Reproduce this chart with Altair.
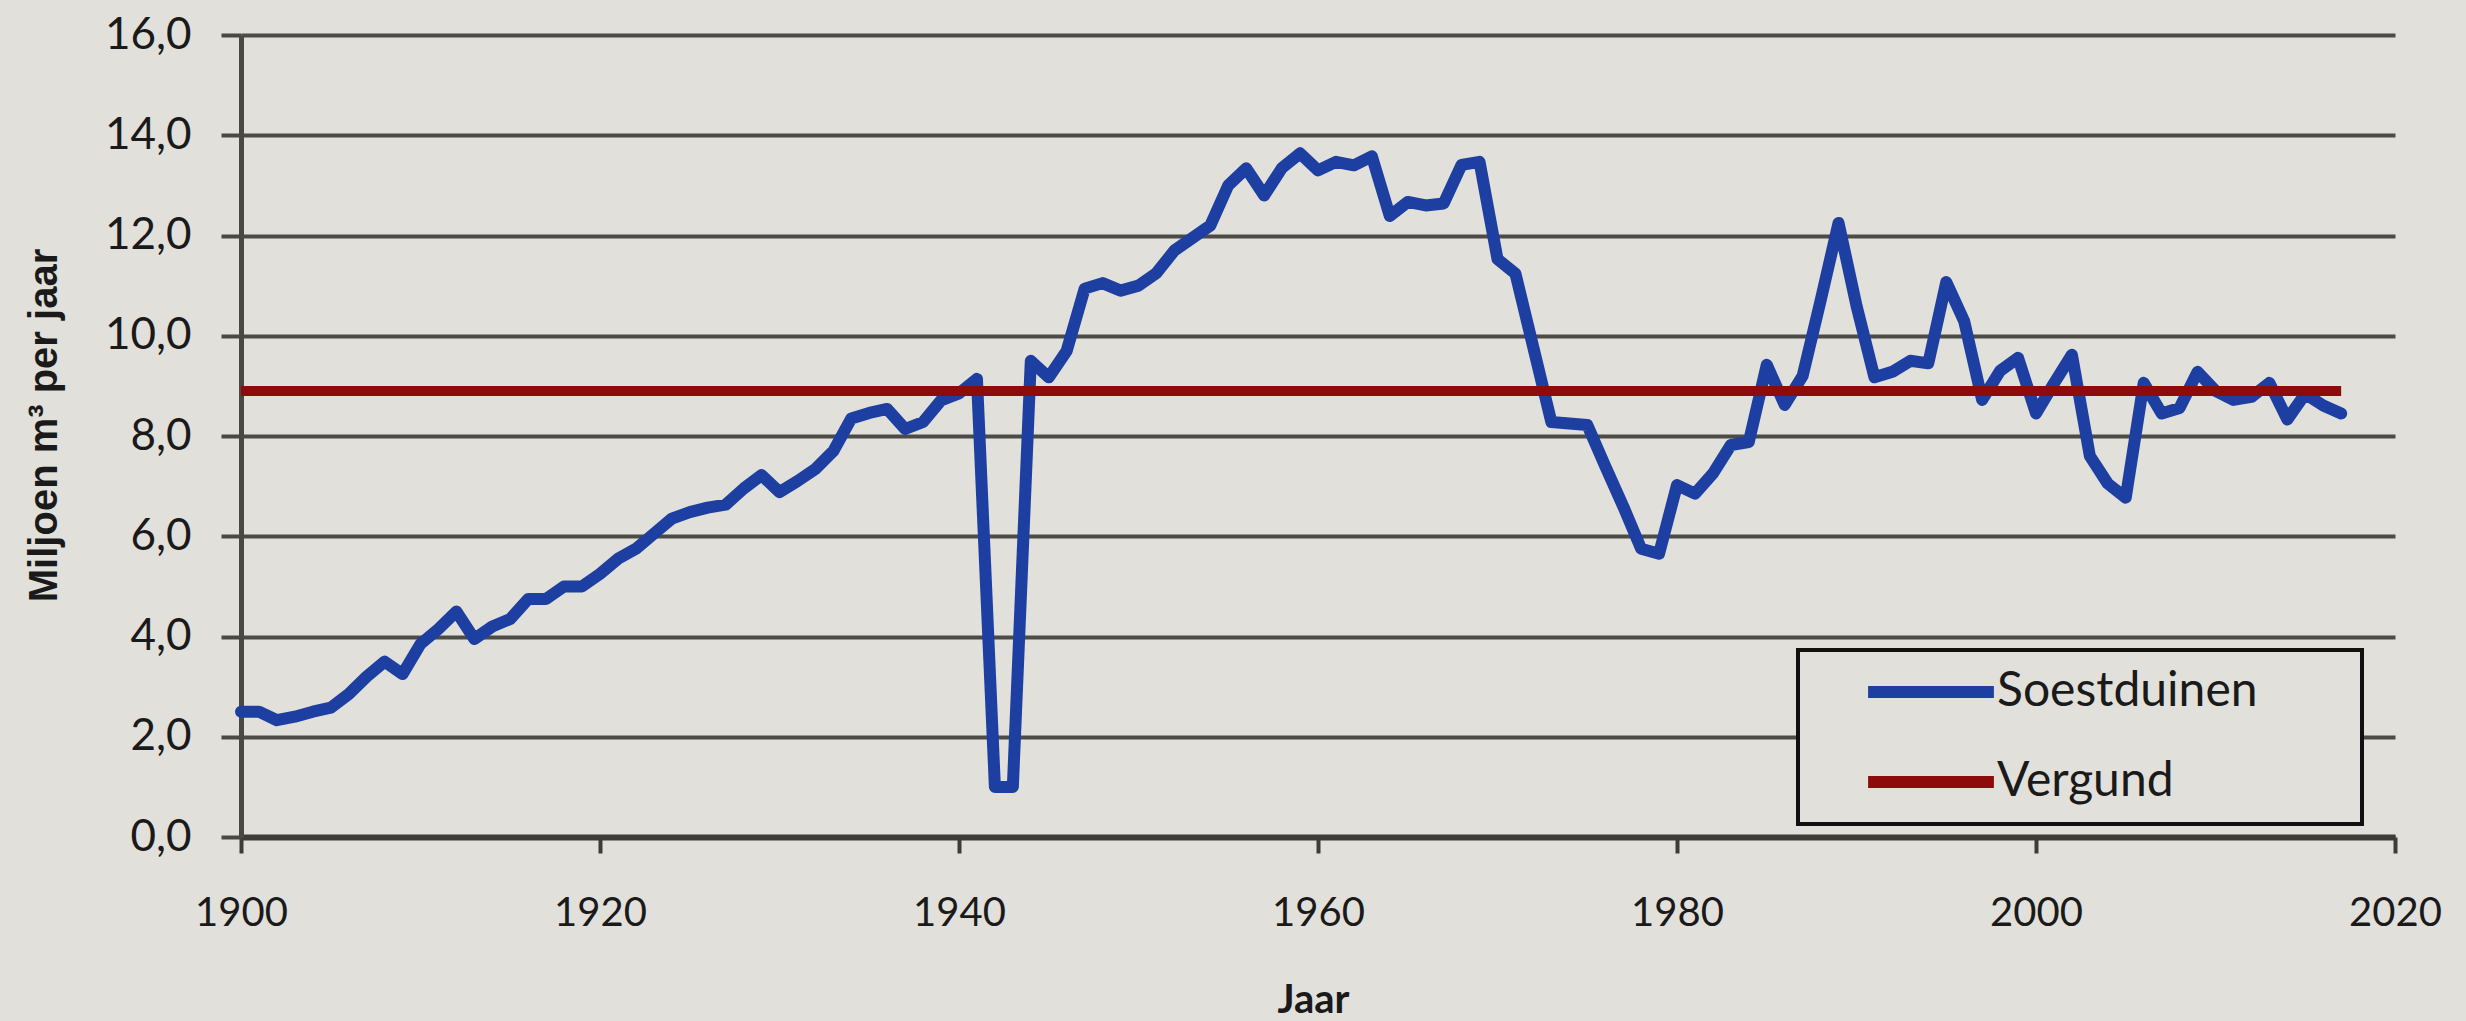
import altair as alt
import pandas as pd

# ---------------- data ----------------
years = list(range(1900, 2018))
soestduinen = [
    2.5, 2.5, 2.33, 2.4, 2.5, 2.58, 2.85, 3.2, 3.5, 3.25,          # 1900-1909
    3.85, 4.15, 4.5, 3.95, 4.2, 4.35, 4.75, 4.75, 5.0, 5.0,        # 1910-1919
    5.25, 5.55, 5.75, 6.05, 6.35, 6.48, 6.57, 6.63, 6.95, 7.22,    # 1920-1929
    6.88, 7.1, 7.34, 7.7, 8.35, 8.46, 8.54, 8.14, 8.28, 8.71,      # 1930-1939
    8.85, 9.14, 1.0, 1.0, 9.5, 9.17, 9.7, 10.94, 11.05, 10.9,      # 1940-1949
    11.0, 11.25, 11.7, 11.95, 12.2, 13.0, 13.34, 12.8, 13.35, 13.64,  # 1950-1959
    13.3, 13.47, 13.4, 13.58, 12.39, 12.67, 12.6, 12.64, 13.41, 13.47,  # 1960-1969
    11.53, 11.24, 9.76, 8.28, 8.25, 8.22, 7.4, 6.6, 5.75, 5.65,    # 1970-1979
    7.02, 6.85, 7.25, 7.82, 7.88, 9.42, 8.62, 9.2, 10.7, 12.25,    # 1980-1989
    10.6, 9.17, 9.28, 9.5, 9.45, 11.07, 10.29, 8.72, 9.3, 9.56,    # 1990-1999
    8.45, 9.05, 9.62, 7.6, 7.05, 6.77, 9.06, 8.45, 8.56, 9.28,     # 2000-2009
    8.9, 8.72, 8.78, 9.06, 8.33, 8.84, 8.61, 8.45,                 # 2010-2017
]
vergund_years = [1900, 2017]
vergund_values = [8.9, 8.9]

series_names = ["Soestduinen", "Vergund"]
series_colors = ["#1d3fa2", "#8c0c0c"]
x_ticks = [1900, 1920, 1940, 1960, 1980, 2000, 2020]
y_ticks = [0, 2, 4, 6, 8, 10, 12, 14, 16]

df_s = pd.DataFrame({"Jaar": years, "Waarde": soestduinen, "Reeks": series_names[0]})
df_v = pd.DataFrame({"Jaar": vergund_years, "Waarde": vergund_values, "Reeks": series_names[1]})

# ---------------- style ----------------
BG = "#e2e0da"
INK = "#1a1a1a"
GRID = "#4d4b47"

W, H = 2154, 802
# non-breaking spaces (kept by a trailing zero-width space) widen the legend box
PAD_TXT = "\u00a0" * 7 + "\u200b"

x_enc = alt.X(
    "Jaar:Q",
    scale=alt.Scale(domain=[1900, 2020], nice=False, zero=False),
    axis=alt.Axis(
        values=x_ticks, format="d", grid=False, title="Jaar",
        domainColor="#3e3c38", domainWidth=6,
        tickColor="#3e3c38", tickWidth=4, tickSize=16,
        labelFont="Lato", labelFontSize=40, labelColor=INK, labelPadding=40,
        labelFlush=False,
        titleFont="Lato", titleFontSize=40, titleFontWeight="bold", titleColor=INK,
        titleX=1072, titleY=163, titleBaseline="middle", titleAlign="center",
    ),
)
y_enc = alt.Y(
    "Waarde:Q",
    scale=alt.Scale(domain=[0, 16], nice=False, zero=True),
    axis=alt.Axis(
        values=y_ticks, grid=True, gridColor=GRID, gridWidth=4,
        labelExpr="replace(format(datum.value, '.1f'), '.', ',')",
        domainColor="#4a4843", domainWidth=5,
        tickColor="#4a4843", tickWidth=4, tickSize=20,
        labelFont="Lato", labelFontSize=44, labelColor=INK, labelPadding=30,
        labelFlush=False,
        title="Miljoen m³ per jaar",
        titleFont="Liberation Sans", titleFontSize=40, titleFontWeight="bold", titleColor=INK,
        titleX=-197, titleY=390, titleAngle=270, titleBaseline="middle", titleAlign="center",
    ),
)
color_enc = alt.Color(
    "Reeks:N",
    scale=alt.Scale(domain=series_names, range=series_colors),
    legend=alt.Legend(
        title=None, orient="none", legendX=1557, legendY=615,
        direction="vertical",
        strokeColor="#111111", fillColor=BG,
        padding=18, rowPadding=42,
        symbolType="M-3.7,0H3.7", symbolSize=1156, symbolStrokeWidth=12,
        symbolOffset=91,
        labelOffset=42, labelFont="Lato", labelFontSize=48, labelColor=INK,
        labelLimit=800,
        labelExpr="datum.label + '" + PAD_TXT + "'",
    ),
)

blue = alt.Chart(df_s).mark_line(strokeWidth=12, strokeJoin="round", strokeCap="round").encode(
    x=x_enc, y=y_enc, color=color_enc
)
red = alt.Chart(df_v).mark_line(strokeWidth=10, strokeCap="butt").encode(
    x=x_enc, y=y_enc, color=color_enc
)

chart = (
    alt.layer(blue, red)
    .properties(
        width=W, height=H,
        autosize=alt.AutoSizeParams(type="none"),
        padding={"left": 241, "top": 35, "right": 71, "bottom": 184},
        background=BG,
    )
    .configure_view(strokeWidth=0)
    .configure_legend(strokeWidth=4)
)

chart.save("out.html", embed_options={"renderer": "svg", "actions": False})
